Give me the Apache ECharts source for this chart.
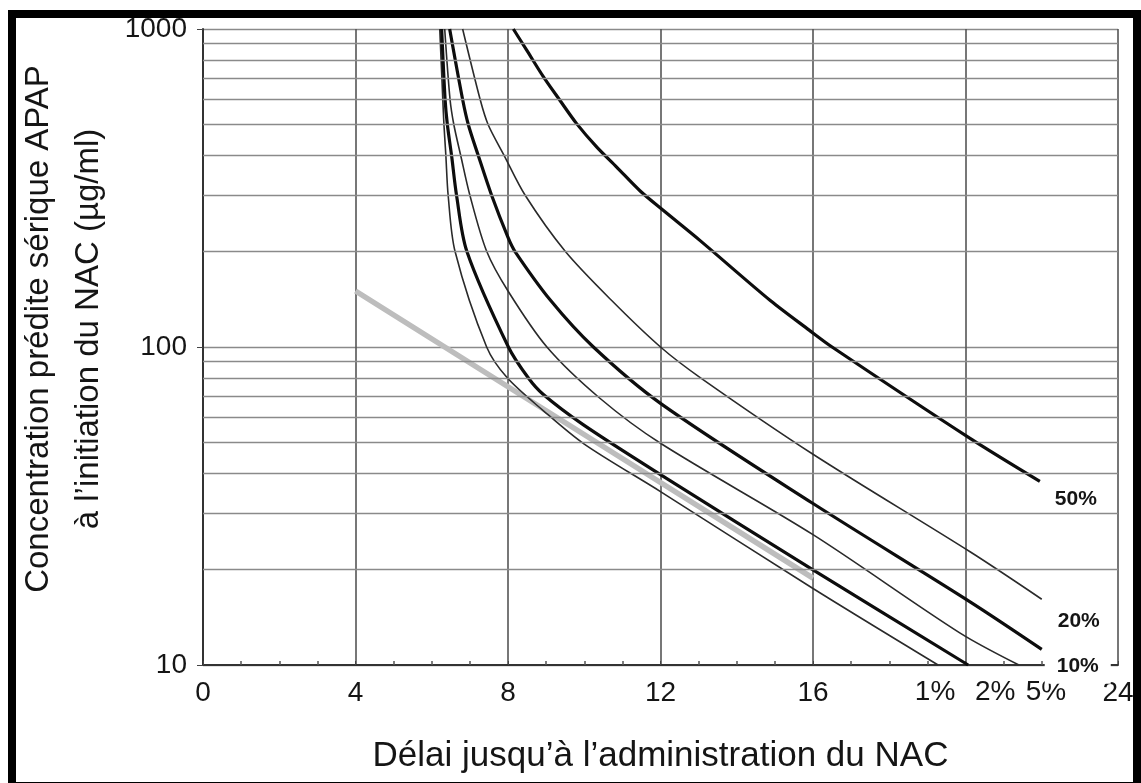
<!DOCTYPE html>
<html>
<head>
<meta charset="utf-8">
<title>Nomogramme APAP / NAC</title>
<script src="https://cdn.jsdelivr.net/npm/echarts@6/dist/echarts.min.js"></script>
<style>
    html, body { margin: 0; padding: 0; background: #fff; }
    #chart { width: 1141px; height: 783px; }
</style>
</head>
<body>
<div id="chart"></div>
<script>
// courbes de risque : [délai (h), concentration (µg/ml)]
const risk1 = [[6.21, 1000], [6.29, 600], [6.32, 500], [6.37, 400], [6.43, 300], [6.61, 200], [7.44, 100], [7.98, 80], [8.93, 63], [10, 49.5], [12, 35.1], [16, 17.4], [19.28, 10]];
const risk2 = [[6.26, 1000], [6.35, 600], [6.41, 500], [6.52, 400], [6.65, 300], [6.92, 200], [8.01, 100], [8.53, 80], [8.92, 71], [9.97, 57], [12, 39.7], [16, 19.9], [20.07, 10]];
const risk5 = [[6.34, 1000], [6.48, 600], [6.58, 500], [6.76, 400], [7.0, 300], [7.44, 200], [8.0, 150], [9.02, 100], [10.41, 69], [12, 49.8], [16, 25.7], [19.86, 12.6], [21.4, 10]];
const risk10 = [[6.47, 1000], [6.81, 600], [6.96, 500], [7.22, 400], [7.57, 300], [8.0, 221], [8.18, 200], [9.12, 140], [10.24, 100], [12, 66.5], [16, 32.2], [20.12, 15.8], [22, 11.2]];
const risk20 = [[6.81, 1000], [7.27, 600], [7.48, 500], [7.9, 400], [8.45, 300], [9.5, 200], [10.72, 140], [12, 100], [13.05, 80], [16, 46], [20.12, 22.7], [22, 16.1]];
const risk50 = [[8.14, 1000], [8.49, 858], [8.93, 707], [9.36, 597], [9.8, 504], [10.33, 425], [10.85, 368], [11.46, 310], [12.07, 269], [13.04, 216], [14.88, 140], [15.9, 113], [16.5, 100], [20.12, 51.6], [21.95, 37.8]];
// ligne de traitement (grise)
const treatmentLine = [[4, 150], [8, 75], [12, 37.5], [16, 18.75]];

// graduations
const hourLabels = { 0: '0', 4: '4', 8: '8', 12: '12', 16: '16', 24: '24' };
const minorLevels = [20, 30, 40, 50, 60, 70, 80, 90, 200, 300, 400, 500, 600, 700, 800, 900];

const FONT = 'Liberation Sans, Arial, sans-serif';
const INK = '#151515';

document.addEventListener('DOMContentLoaded', function () {
    const chartDom = document.getElementById('chart');
    const chart = echarts.init(chartDom);

    // style d'une courbe de risque
    function riskSeries(name, data, thick, label) {
        return {
            name: name,
            type: 'line',
            data: data,
            smooth: 0.3,
            showSymbol: false,
            symbol: 'none',
            z: 4,
            lineStyle: {
                color: thick ? '#0d0d0d' : '#2a2a2a',
                width: thick ? 3.2 : 1.6
            },
            endLabel: Object.assign({
                show: true,
                formatter: name,
                distance: 0,
                align: 'center',
                verticalAlign: 'middle',
                fontFamily: FONT,
                color: INK
            }, label)
        };
    }

    const bottomLabel = { fontSize: 28 };
    const sideLabel = {
        fontSize: 21,
        fontWeight: 'bold',
        backgroundColor: '#fff',
        padding: [7, 12]
    };

    const option = {
        animation: false,
        backgroundColor: '#fff',
        grid: {
            left: 203,
            right: 23,
            top: 29,
            bottom: 118,
            outerBoundsMode: 'none'
        },
        xAxis: {
            type: 'value',
            min: 0,
            max: 24,
            interval: 4,
            name: 'Délai jusqu’à l’administration du NAC',
            nameLocation: 'middle',
            nameGap: 74,
            nameTextStyle: { fontFamily: FONT, fontSize: 35, color: INK },
            axisLine: { lineStyle: { color: '#333', width: 2 } },
            axisTick: { inside: true, length: 4, lineStyle: { color: '#444' } },
            minorTick: { show: true, splitNumber: 4, length: 4, lineStyle: { color: '#555', width: 1.5 } },
            axisLabel: {
                fontFamily: FONT,
                fontSize: 28,
                color: INK,
                margin: 14,
                formatter: function (value) {
                    return hourLabels[value] !== undefined ? hourLabels[value] : '';
                }
            },
            splitLine: { show: true, lineStyle: { color: '#555', width: 1.6 } }
        },
        yAxis: {
            type: 'log',
            logBase: 10,
            min: 10,
            max: 1000,
            name: 'Concentration prédite sérique APAP\nà l’initiation du NAC (µg/ml)',
            nameLocation: 'middle',
            nameGap: 87,
            nameTextStyle: { fontFamily: FONT, fontSize: 33, color: INK, lineHeight: 50, padding: [0, 0, 0, 36] },
            axisLine: { show: true, lineStyle: { color: '#333', width: 2 } },
            axisTick: { show: true, length: 6, lineStyle: { color: '#444' } },
            axisLabel: {
                fontFamily: FONT,
                fontSize: 28,
                color: INK,
                margin: 16,
                formatter: function (value) { return String(value); }
            },
            splitLine: { show: true, lineStyle: { color: '#8a8a8a', width: 1.4 } }
        },
        graphic: [
            {
                type: 'rect',
                silent: true,
                z: 100,
                shape: { x: 12, y: 14, width: 1125, height: 772 },
                style: { fill: 'none', stroke: '#000', lineWidth: 8 }
            }
        ],
        series: [
            {
                // lignes secondaires de la grille logarithmique
                type: 'line',
                data: [],
                silent: true,
                z: 1,
                markLine: {
                    silent: true,
                    symbol: ['none', 'none'],
                    label: { show: false },
                    lineStyle: { color: '#8a8a8a', width: 1.4, type: 'solid' },
                    data: minorLevels.map(function (v) { return { yAxis: v }; })
                }
            },
            {
                name: 'traitement',
                type: 'line',
                data: treatmentLine,
                showSymbol: false,
                symbol: 'none',
                z: 3,
                lineStyle: { color: '#bdbdbd', width: 5.5 }
            },
            riskSeries('1%', risk1, false, Object.assign({ offset: [-3, 27] }, bottomLabel)),
            riskSeries('2%', risk2, true, Object.assign({ offset: [27, 27] }, bottomLabel)),
            riskSeries('5%', risk5, false, Object.assign({ offset: [27, 27] }, bottomLabel)),
            riskSeries('10%', risk10, true, Object.assign({ offset: [36, 17] }, sideLabel)),
            riskSeries('20%', risk20, false, Object.assign({ offset: [37, 22] }, sideLabel)),
            riskSeries('50%', risk50, true, Object.assign({ offset: [36, 18] }, sideLabel))
        ]
    };

    chart.setOption(option);

    window.addEventListener('resize', function () {
        chart.resize();
    });
});
</script>
</body>
</html>
